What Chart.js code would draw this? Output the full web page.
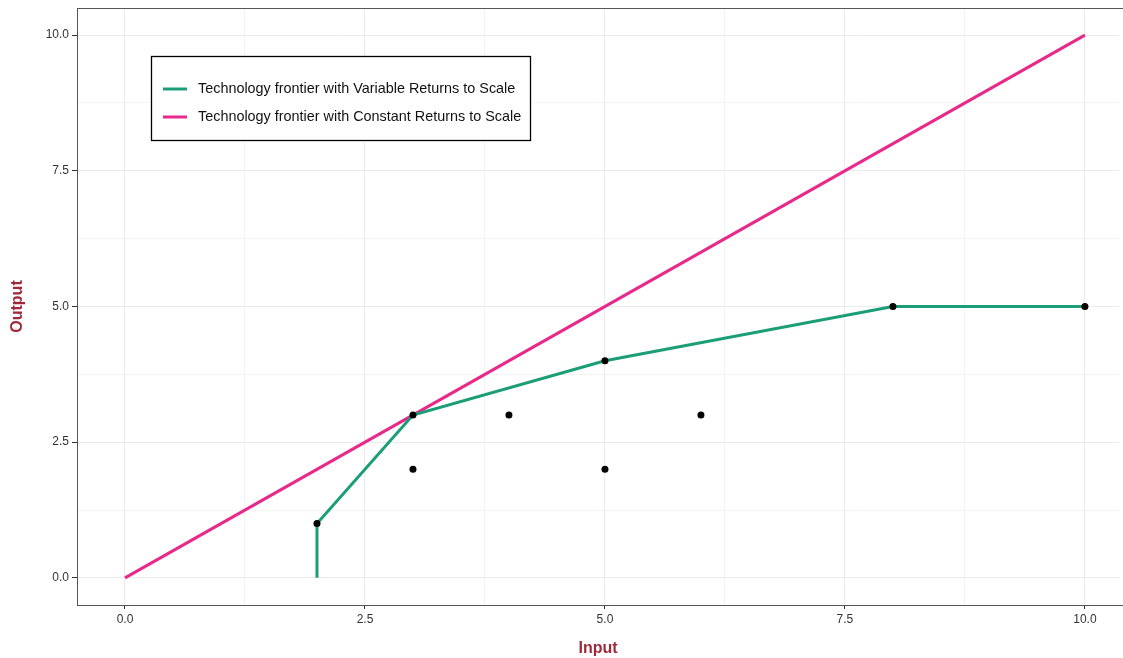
<!DOCTYPE html>
<html>
<head>
<meta charset="utf-8">
<script src="https://cdn.jsdelivr.net/npm/chart.js@4"></script>
<style>
  html, body { margin: 0; padding: 0; background: #fff; }
  #wrap { width: 1123px; height: 658px; }
</style>
</head>
<body>
<div id="wrap"><canvas id="chart" width="1123" height="658"></canvas></div>
<script>
// observed firms (input, output)
const firmInput  = [2, 3, 3, 4, 5, 5, 6, 8, 10];
const firmOutput = [1, 3, 2, 3, 4, 2, 3, 5, 5];

// VRS frontier
const vrsInput  = [2, 2, 3, 5, 8, 10];
const vrsOutput = [0, 1, 3, 4, 5, 5];

// CRS frontier
const crsInput  = [0, 10];
const crsOutput = [0, 10];

const xTicks = [0, 1.25, 2.5, 3.75, 5, 6.25, 7.5, 8.75, 10];
const yTicks = [0, 1.25, 2.5, 3.75, 5, 6.25, 7.5, 8.75, 10];

const vrsLabel = 'Technology frontier with Variable Returns to Scale';
const crsLabel = 'Technology frontier with Constant Returns to Scale';

const toPts = (xs, ys) => xs.map((x, i) => ({ x: x, y: ys[i] }));

const isMajor = v => Math.abs(v / 2.5 - Math.round(v / 2.5)) < 1e-9;
const gridColor = ctx => isMajor(ctx.tick.value) ? '#ebebeb' : '#f4f4f4';
const tickMarkColor = ctx => isMajor(ctx.tick.value) ? '#333' : 'rgba(0,0,0,0)';

const panelBorder = {
    id: 'panelBorder',
    afterDraw(chart) {
        const a = chart.chartArea;
        const c = chart.ctx;
        c.save();
        c.strokeStyle = '#555';
        c.lineWidth = 1;
        c.strokeRect(a.left + 0.5, a.top + 0.5, a.right - a.left + 20, a.bottom - a.top);
        c.restore();
    }
};

// legend box drawn inside the panel, like ggplot's legend.position
const insideLegend = {
    id: 'insideLegend',
    afterDraw(chart) {
        const c = chart.ctx;
        const items = chart.data.datasets.filter(d => d.showLine);
        c.save();
        c.fillStyle = '#fff';
        c.fillRect(151, 56, 379, 84);
        c.strokeStyle = '#000';
        c.lineWidth = 1.3;
        c.strokeRect(151.5, 56.5, 379, 84);
        c.font = '14.4px "Liberation Sans", Arial, sans-serif';
        c.textBaseline = 'middle';
        items.forEach((d, i) => {
            const y = 89 + i * 28;
            c.strokeStyle = d.borderColor;
            c.lineWidth = 3;
            c.beginPath();
            c.moveTo(163, y);
            c.lineTo(187, y);
            c.stroke();
            c.fillStyle = '#111';
            c.fillText(d.label, 198, y);
        });
        c.restore();
    }
};

new Chart(document.getElementById('chart'), {
    type: 'scatter',
    data: {
        datasets: [
            {
                label: vrsLabel,
                data: toPts(vrsInput, vrsOutput),
                showLine: true,
                borderColor: '#1b9e77',
                borderWidth: 3,
                pointRadius: 0,
                fill: false,
                order: 2
            },
            {
                label: crsLabel,
                data: toPts(crsInput, crsOutput),
                showLine: true,
                borderColor: '#e7298a',
                borderWidth: 3,
                pointRadius: 0,
                fill: false,
                order: 3
            },
            {
                label: 'Firms',
                data: toPts(firmInput, firmOutput),
                showLine: false,
                backgroundColor: '#000',
                borderColor: '#000',
                pointRadius: 3.5,
                borderWidth: 0,
                order: 1
            }
        ]
    },
    options: {
        responsive: false,
        animation: false,
        layout: { padding: { top: 8, right: 0, left: 0, bottom: 0 } },
        plugins: {
            legend: { display: false },
            tooltip: { enabled: false }
        },
        scales: {
            x: {
                type: 'linear',
                min: -0.5,
                max: 10.355,
                afterBuildTicks: s => { s.ticks = xTicks.map(v => ({ value: v })); },
                afterFit: s => { s.height = 53; },
                grid: { color: gridColor, tickColor: tickMarkColor, tickLength: 4, lineWidth: 1 },
                border: { display: true, color: '#555' },
                ticks: {
                    autoSkip: false,
                    maxRotation: 0,
                    color: '#333',
                    padding: 3,
                    font: { family: '"Liberation Sans", Arial, sans-serif', size: 12 },
                    callback: v => isMajor(v) ? v.toFixed(1) : ''
                },
                title: {
                    display: true,
                    text: 'Input',
                    color: '#9e2a3a',
                    padding: { top: 0, bottom: 0 },
                    font: { family: '"Liberation Sans", Arial, sans-serif', size: 16, weight: 'bold' }
                }
            },
            y: {
                type: 'linear',
                min: -0.5,
                max: 10.5,
                afterBuildTicks: s => { s.ticks = yTicks.map(v => ({ value: v })); },
                afterFit: s => { s.width = 77; s.paddingTop = 0; s.paddingBottom = 0; },
                grid: { color: gridColor, tickColor: tickMarkColor, tickLength: 5, lineWidth: 1 },
                border: { display: true, color: '#555' },
                ticks: {
                    autoSkip: false,
                    color: '#333',
                    padding: 3,
                    font: { family: '"Liberation Sans", Arial, sans-serif', size: 12 },
                    callback: v => isMajor(v) ? v.toFixed(1) : ''
                },
                title: {
                    display: true,
                    text: 'Output',
                    color: '#9e2a3a',
                    padding: { top: 8, bottom: 0 },
                    font: { family: '"Liberation Sans", Arial, sans-serif', size: 16, weight: 'bold' }
                }
            }
        }
    },
    plugins: [panelBorder, insideLegend]
});
</script>
</body>
</html>
